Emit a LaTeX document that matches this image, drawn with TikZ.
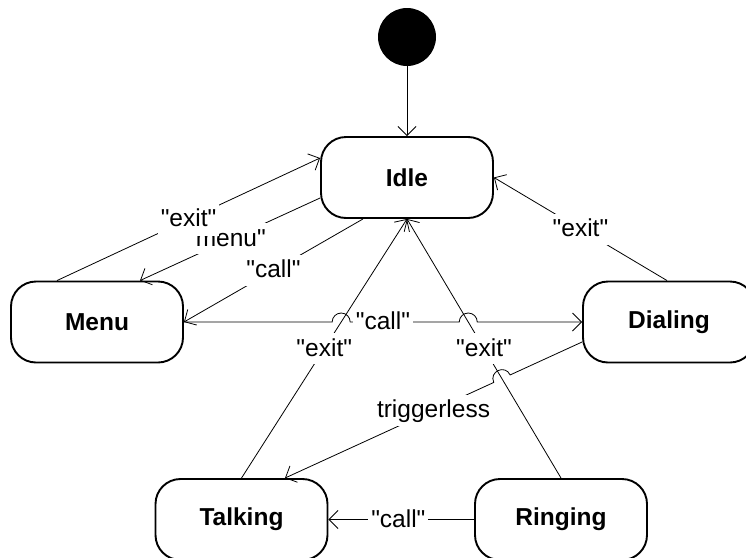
\documentclass[tikz,border=0pt]{standalone}
\usepackage{fontspec}
\setmainfont{Liberation Sans}[Ligatures=TeXOff]
\usetikzlibrary{arrows.meta,calc,intersections}
\begin{document}
\begin{tikzpicture}[x=1pt,y=1pt,
  state/.style={draw, line width=1.9pt, rounded corners=25pt, minimum width=172pt, minimum height=81pt, inner sep=0pt, font=\bfseries\fontsize{24.5}{28}\selectfont},
  conn/.style={line width=0.8pt, -{Straight Barb[length=9pt,width=18pt]}},
  lbl/.style={fill=white, inner xsep=3pt, inner ysep=3pt, text height=20pt, text depth=5pt, font=\fontsize{24.5}{28}\selectfont},
  lbltall/.style={lbl, text depth=6pt, inner ysep=3.5pt}]
\useasboundingbox (0,0) rectangle (746,-557);
\node[circle, fill=black, minimum size=58pt, inner sep=0pt] (init) at (407,-37) {};
\node[state] (idle) at (407,-177.5) {Idle};
\node[state] (menu) at (97,-322) {Menu};
\node[state] (dial) at (669,-322) {Dialing};
\node[state] (talk) at (241.5,-519.5) {Talking};
\node[state] (ring) at (561,-519.5) {Ringing};
% anchor points
\coordinate (mA) at ($(menu.north)+(-40,0)$);
\coordinate (iA) at ($(idle.west)+(0,19.5)$);
\coordinate (iB) at ($(idle.west)+(0,-20.5)$);
\coordinate (mB) at ($(menu.north)+(43,0)$);
\coordinate (iC) at ($(idle.south)+(-44,0)$);
\coordinate (dA) at ($(dial.west)+(0,-20)$);
\coordinate (tA) at ($(talk.north)+(43.5,0)$);
\coordinate (dB) at ($(dial.north)+(-2,0)$);
% intersections for line jumps
\path[name path=hline] (menu.east) -- (dial.west);
\path[name path=tline] (talk.north) -- (idle.south);
\path[name path=rline] (ring.north) -- (idle.south);
\path[name path=trig] (dA) -- (tA);
\path[name intersections={of=hline and tline, by=X1}];
\path[name intersections={of=hline and rline, by=X2}];
\path[name intersections={of=trig and rline, by=X3}];
\coordinate (P1) at ($(X3)!9pt!(dA)$);
\coordinate (P2) at ($(X3)!9pt!(tA)$);
\coordinate (C1) at ($(P1)!12pt!-90:(P2)$);
\coordinate (C2) at ($(P2)!12pt!90:(P1)$);
% connectors
\draw[conn] (init.south) -- (idle.north);
\draw[conn] (iB) -- (mB) node[lbl, pos=0.52, yshift=2pt] {"menu"};
\draw[conn] (mA) -- (iA) node[lbltall, pos=0.5] {"exit"};
\draw[conn] (iC) -- (menu.east) node[lbl, pos=0.5] {"call"};
\draw[conn] (menu.east) -- ($(X1)+(-9pt,0)$) arc[start angle=180, end angle=0, radius=9pt]
  -- ($(X2)+(-9pt,0)$) arc[start angle=180, end angle=0, radius=9pt] -- (dial.west);
\node[lbl] (callh) at ($(menu.east)!0.5!(dial.west)$) {"call"};
\draw[conn] (talk.north) -- (idle.south) node[lbl, pos=0.5] {"exit"};
\draw[conn] (ring.north) -- (idle.south) node[lbl, pos=0.5] {"exit"};
\draw[conn] (dA) -- (P1) .. controls (C1) and (C2) .. (P2) -- (tA);
\node[lbl] (trigl) at ($(dA)!0.5!(tA)$) {triggerless};
\draw[conn] (dB) -- (idle.east) node[lbl, pos=0.5] {"exit"};
\draw[conn] (ring.west) -- (talk.east) node[lbl, pos=0.52] {"call"};
\end{tikzpicture}
\end{document}
